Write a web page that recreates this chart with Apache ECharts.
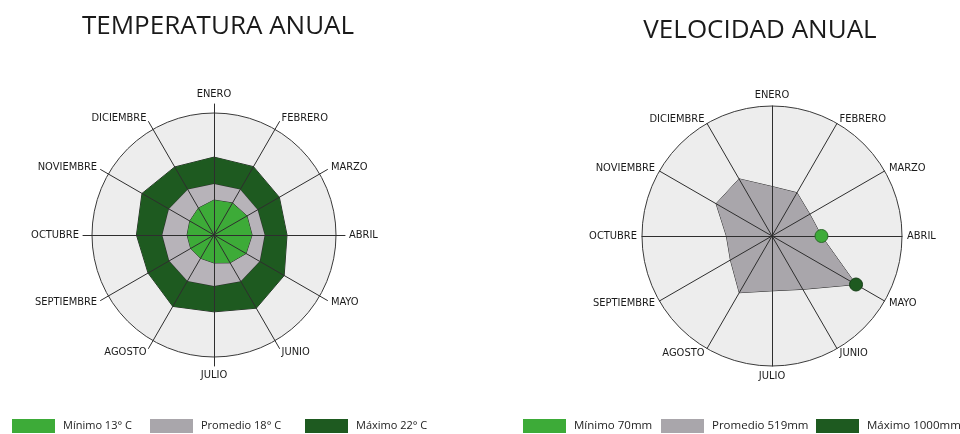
<!DOCTYPE html>
<html>
<head>
<meta charset="utf-8">
<script src="https://cdn.jsdelivr.net/npm/echarts@6/dist/echarts.min.js"></script>
<style>
  html, body { margin: 0; padding: 0; background: #fff; }
  #chart { width: 960px; height: 434px; }
</style>
</head>
<body>
<div id="chart"></div>
<script>
// meses en el orden del reloj, empezando arriba
var months = ['ENERO', 'FEBRERO', 'MARZO', 'ABRIL', 'MAYO', 'JUNIO', 'JULIO',
              'AGOSTO', 'SEPTIEMBRE', 'OCTUBRE', 'NOVIEMBRE', 'DICIEMBRE'];

// temperatura (escala del dibujo)
var tempMin  = [10.0, 10.6, 10.9, 10.9, 10.6, 9.2, 8.0, 7.7, 7.7, 7.7, 8.0, 8.9];
var tempProm = [14.6, 15.0, 14.4, 14.5, 15.1, 15.3, 14.6, 15.2, 14.8, 14.8, 14.9, 15.0];
var tempMax  = [22.3, 22.6, 21.6, 20.9, 23.2, 24.2, 22.0, 23.6, 21.8, 22.2, 23.8, 22.5];
var tempLegend = ['Mínimo 13° C', 'Promedio 18° C', 'Máximo 22° C'];

// velocidad (mm)
var velProm = [510, 515, 450, 510, 1000, 635, 565, 675, 495, 470, 665, 680];
var velMinMonth = 'ABRIL';
var velMaxMonth = 'MAYO';
var velLegend = ['Mínimo 70mm', 'Promedio 519mm', 'Máximo 1000mm'];

var GREEN = '#3dab38', GRAY = '#b7b3b9', DARK = '#1e5a20', GRAY2 = '#a9a6ab';
var FONT = 'DejaVu Sans Condensed';

// el radar de echarts gira al reves, asi que se invierte el orden
function cw(a) { return [a[0]].concat(a.slice(1).reverse()); }

function indicators(max, withNames) {
    return cw(months).map(function (m) { return { name: withNames ? m : '', min: 0, max: max }; });
}

function bgRadar(center, radius, max) {
    return {
        center: center, radius: radius, shape: 'circle', splitNumber: 1, z: 0,
        indicator: indicators(max, false),
        axisName: { show: false },
        axisLine: { show: false },
        splitLine: { lineStyle: { color: '#3a3a3a', width: 1 } },
        splitArea: { areaStyle: { color: ['#ededed'] } }
    };
}

function axisRadar(center, radius, max, gap) {
    return {
        center: center, radius: radius, shape: 'circle', splitNumber: 1, z: 3,
        indicator: indicators(max, true),
        nameGap: gap,
        axisName: { color: '#1a1a1a', fontSize: 11, fontFamily: FONT },
        axisLine: { lineStyle: { color: '#2e2e2e', width: 1 } },
        splitLine: { show: false },
        splitArea: { show: false }
    };
}

function legendAt(x, name, color, size) {
    return {
        left: x, top: 419, padding: 0, icon: 'rect', itemWidth: 43, itemHeight: 14,
        selectedMode: false,
        textStyle: { color: '#222', fontSize: size, fontFamily: 'Open Sans', padding: [0, 0, 0, 3] },
        data: [{ name: name, itemStyle: { color: color, borderWidth: 0 } }]
    };
}

function poly(name, values, color) {
    return {
        name: name, value: cw(values),
        symbol: 'none',
        itemStyle: { color: color },
        lineStyle: { color: '#2a2a2a', width: 1 },
        areaStyle: { color: color, opacity: 1 }
    };
}

var myChart = echarts.init(document.getElementById('chart'));

var option = {
    animation: false,
    title: [
        { text: 'TEMPERATURA ANUAL', left: 213, top: 9, textAlign: 'center',
          textStyle: { fontFamily: 'Open Sans', fontWeight: 'normal', fontSize: 26, color: '#1a1a1a' } },
        { text: 'VELOCIDAD ANUAL', left: 755, top: 13, textAlign: 'center',
          textStyle: { fontFamily: 'Open Sans', fontWeight: 'normal', fontSize: 26, color: '#1a1a1a' } }
    ],
    radar: [
        bgRadar([214, 235], 122, 35),
        axisRadar([214, 235], 131, 37.5, 4),
        bgRadar([772, 236], 130, 1340),
        axisRadar([772, 236], 130, 1340, 5)
    ],
    polar: { center: [772, 236], radius: 130 },
    angleAxis: { type: 'value', min: 0, max: 12, startAngle: 90, clockwise: true, show: false,
                 splitLine: { show: false }, axisLine: { show: false } },
    radiusAxis: { min: 0, max: 1340, show: false, splitLine: { show: false }, axisLine: { show: false } },
    legend: [
        legendAt(12, tempLegend[0], GREEN, 11),
        legendAt(150, tempLegend[1], GRAY2, 11),
        legendAt(305, tempLegend[2], DARK, 11),
        legendAt(523, velLegend[0], GREEN, 11.5),
        legendAt(661, velLegend[1], GRAY2, 11.5),
        legendAt(816, velLegend[2], DARK, 11.5)
    ],
    series: [
        {
            type: 'radar', radarIndex: 1, z: 2, silent: true,
            data: [
                poly(tempLegend[2], tempMax, DARK),
                poly(tempLegend[1], tempProm, GRAY),
                poly(tempLegend[0], tempMin, GREEN)
            ]
        },
        {
            type: 'radar', radarIndex: 3, z: 2, silent: true,
            data: [poly(velLegend[1], velProm, GRAY2)]
        },
        {
            name: velLegend[0], type: 'scatter', coordinateSystem: 'polar', z: 5,
            symbolSize: 13,
            itemStyle: { color: GREEN, borderColor: '#2d6a2b', borderWidth: 1, opacity: 1 },
            data: [[velProm[months.indexOf(velMinMonth)], months.indexOf(velMinMonth)]]
        },
        {
            name: velLegend[2], type: 'scatter', coordinateSystem: 'polar', z: 5,
            symbolSize: 13,
            itemStyle: { color: DARK, borderColor: '#143d15', borderWidth: 1, opacity: 1 },
            data: [[velProm[months.indexOf(velMaxMonth)], months.indexOf(velMaxMonth)]]
        }
    ]
};

myChart.setOption(option);
</script>
</body>
</html>
